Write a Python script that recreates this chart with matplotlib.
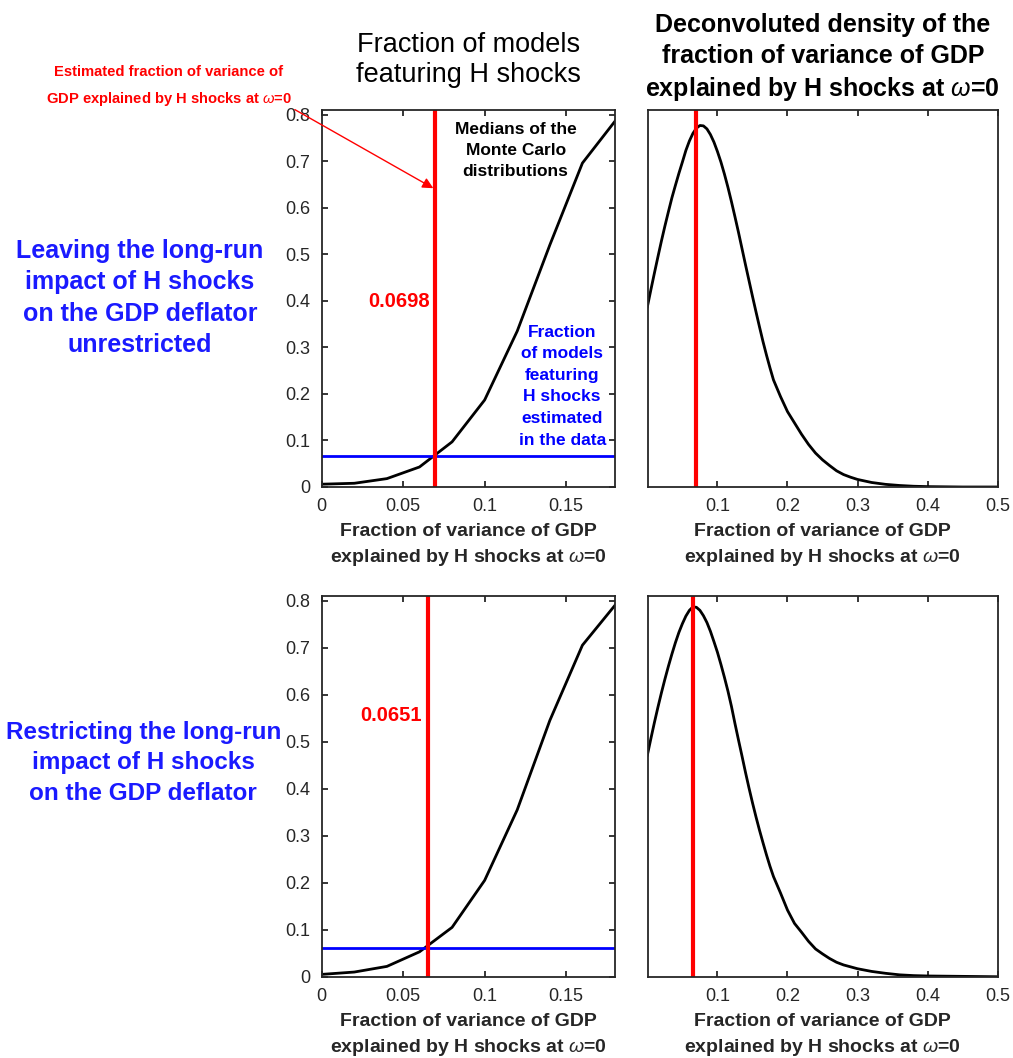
import matplotlib.pyplot as plt

plt.rcParams['font.family'] = ['Liberation Sans', 'DejaVu Sans']
plt.rcParams['mathtext.fontset'] = 'custom'
plt.rcParams['mathtext.it'] = 'Liberation Sans:italic'
plt.rcParams['mathtext.rm'] = 'Liberation Sans'

# medians of the Monte Carlo distributions (left column)
mc_grid = [0, 0.02, 0.04, 0.06, 0.08, 0.10, 0.12, 0.14, 0.16, 0.18]
mc_median_top = [0.006, 0.008, 0.018, 0.043, 0.097, 0.187, 0.335, 0.52, 0.696, 0.786]
mc_median_bottom = [0.005, 0.01, 0.022, 0.053, 0.105, 0.205, 0.355, 0.545, 0.705, 0.79]
est_top = 0.0698
est_bottom = 0.0651
share_top = 0.066
share_bottom = 0.062

# deconvoluted densities (right column, scaled to axis height)
dens_x = [0, 0.005, 0.01, 0.015, 0.02, 0.025, 0.03, 0.035, 0.04, 0.045,
          0.05, 0.055, 0.06, 0.065, 0.07, 0.075, 0.08, 0.085, 0.09, 0.095,
          0.1, 0.105, 0.11, 0.115, 0.12, 0.125, 0.13, 0.135, 0.14, 0.145,
          0.15, 0.155, 0.16, 0.165, 0.17, 0.175, 0.18, 0.19, 0.2, 0.21,
          0.22, 0.23, 0.24, 0.25, 0.26, 0.27, 0.28, 0.29, 0.3, 0.32,
          0.34, 0.36, 0.38, 0.4, 0.45, 0.5]
dens_top = [0.478, 0.523, 0.567, 0.61, 0.652, 0.692, 0.73, 0.767, 0.8, 0.832,
            0.862, 0.893, 0.918, 0.938, 0.952, 0.959, 0.958, 0.95, 0.935, 0.915,
            0.89, 0.862, 0.83, 0.795, 0.757, 0.717, 0.676, 0.633, 0.59, 0.548,
            0.506, 0.465, 0.425, 0.386, 0.35, 0.316, 0.284, 0.24, 0.2, 0.17,
            0.14, 0.113, 0.09, 0.072, 0.057, 0.043, 0.033, 0.026, 0.02, 0.012,
            0.007, 0.004, 0.002, 0.001, 0.0, 0.0]
dens_bottom = [0.582, 0.625, 0.667, 0.707, 0.745, 0.781, 0.815, 0.847, 0.877, 0.904,
               0.927, 0.947, 0.962, 0.971, 0.97, 0.962, 0.948, 0.93, 0.907, 0.88,
               0.852, 0.82, 0.786, 0.75, 0.71, 0.665, 0.622, 0.58, 0.537, 0.496,
               0.457, 0.42, 0.385, 0.352, 0.32, 0.29, 0.263, 0.22, 0.175, 0.14,
               0.117, 0.093, 0.073, 0.06, 0.048, 0.038, 0.031, 0.026, 0.021, 0.014,
               0.009, 0.005, 0.003, 0.002, 0.001, 0.0]

xlab = 'Fraction of variance of GDP\nexplained by H shocks at $\\omega$=0'
dark = '#262626'

fig = plt.figure(figsize=(10.13, 10.58), dpi=100)
ax_tl = fig.add_axes([0.3176, 0.5397, 0.2895, 0.3563])
ax_tr = fig.add_axes([0.6394, 0.5397, 0.3455, 0.3563])
ax_bl = fig.add_axes([0.3176, 0.0768, 0.2895, 0.36])
ax_br = fig.add_axes([0.6394, 0.0768, 0.3455, 0.36])


def style(ax):
    for s in ax.spines.values():
        s.set_color(dark)
        s.set_linewidth(1.3)
    ax.tick_params(direction='in', length=4, width=1.3, colors=dark,
                   labelsize=13, pad=8, top=True, right=True)
    ax.set_xlabel(xlab, fontsize=14, fontweight='bold', color=dark, labelpad=6,
                  linespacing=1.45)


for ax, med, est, share in [(ax_tl, mc_median_top, est_top, share_top),
                            (ax_bl, mc_median_bottom, est_bottom, share_bottom)]:
    ax.plot(mc_grid, med, color='black', lw=2)
    ax.axhline(share, color='#0000ff', lw=2)
    ax.axvline(est, color='#ff0000', lw=3)
    ax.set_xlim(0, 0.18)
    ax.set_ylim(0, 0.81)
    ax.set_xticks([0, 0.05, 0.1, 0.15])
    ax.set_xticklabels(['0', '0.05', '0.1', '0.15'])
    ax.set_yticks([0, 0.1, 0.2, 0.3, 0.4, 0.5, 0.6, 0.7, 0.8])
    ax.set_yticklabels(['0', '0.1', '0.2', '0.3', '0.4', '0.5', '0.6', '0.7', '0.8'])
    style(ax)

for ax, dy, est in [(ax_tr, dens_top, est_top), (ax_br, dens_bottom, est_bottom)]:
    ax.plot(dens_x, dy, color='black', lw=2)
    ax.axvline(est, color='#ff0000', lw=3)
    ax.set_xlim(0.0005, 0.5)
    ax.set_ylim(0, 1)
    ax.set_xticks([0.1, 0.2, 0.3, 0.4, 0.5])
    ax.set_xticklabels(['0.1', '0.2', '0.3', '0.4', '0.5'])
    ax.set_yticks([])
    style(ax)
    ax.tick_params(right=False, left=False)

ax_tl.text(est_top - 0.0035, 0.398, '0.0698', color='#ff0000', fontsize=14.5,
           fontweight='bold', ha='right', va='center')
ax_bl.text(est_bottom - 0.0035, 0.555, '0.0651', color='#ff0000', fontsize=14.5,
           fontweight='bold', ha='right', va='center')

ax_tl.text(0.119, 0.724, 'Medians of the\nMonte Carlo\ndistributions', color='black',
           fontsize=12.5, fontweight='bold', ha='center', va='center', linespacing=1.5)
ax_tl.text(0.1476, 0.2166, 'Fraction\nof models\nfeaturing\nH shocks\nestimated\nin the data',
           color='#0000ff', fontsize=12.5, fontweight='bold', ha='center', va='center',
           linespacing=1.55)

ax_tl.annotate('Estimated fraction of variance of\nGDP explained by H shocks at $\\omega$=0',
               xy=(0.0685, 0.642), xycoords='data',
               xytext=(0.1668, 1 - 86.5 / 1058), textcoords='figure fraction',
               ha='center', va='center', color='#ff0000', fontsize=10.6,
               fontweight='bold', linespacing=1.85, annotation_clip=False,
               arrowprops=dict(arrowstyle='-|>', color='#ff0000', lw=1,
                               mutation_scale=16, relpos=(1, 0),
                               shrinkA=0, shrinkB=0))

fig.text(0.4626, 1 - 60 / 1058, 'Fraction of models\nfeaturing H shocks', ha='center', va='center',
         fontsize=19.5, color='black', linespacing=1.25)
fig.text(0.8122, 1 - 58 / 1058, 'Deconvoluted density of the\nfraction of variance of GDP\nexplained by H shocks at $\\omega$=0',
         ha='center', va='center', fontsize=18, fontweight='bold', color='black',
         linespacing=1.34)

fig.text(0.1382, 1 - 298 / 1058, 'Leaving the long-run\nimpact of H shocks\non the GDP deflator\nunrestricted',
         ha='center', va='center', fontsize=18, fontweight='bold', color='#1a1aff',
         linespacing=1.38)
fig.text(0.1415, 1 - 763 / 1058, 'Restricting the long-run\nimpact of H shocks\non the GDP deflator',
         ha='center', va='center', fontsize=17.5, fontweight='bold', color='#1a1aff',
         linespacing=1.42)

fig.savefig('out.png', dpi=100)
